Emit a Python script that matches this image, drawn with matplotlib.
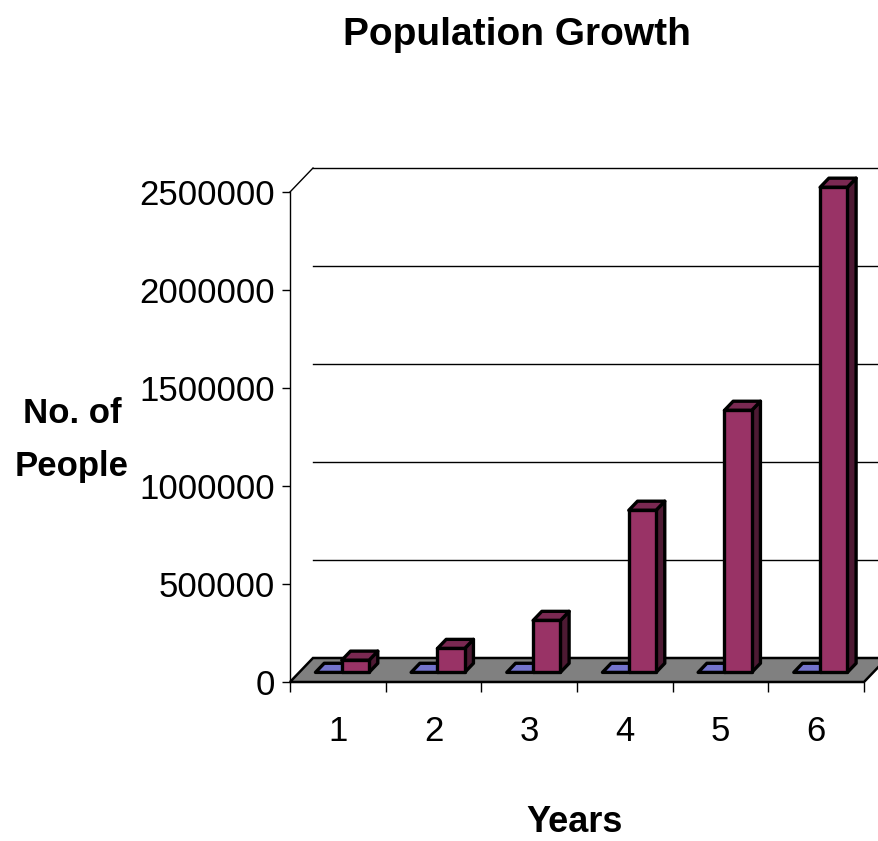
"""Excel-style 3D column chart: Population Growth."""

import matplotlib
matplotlib.use("Agg")
import matplotlib.pyplot as plt
from matplotlib.patches import Polygon

years = ["1", "2", "3", "4", "5", "6"]
series_a = [0, 0, 0, 0, 0, 0]  # flat blue series
population = [62000, 122000, 265000, 827000, 1337000, 2475000]
yticks = [0, 500000, 1000000, 1500000, 2000000, 2500000]

plt.rcParams["font.family"] = ["Liberation Sans", "DejaVu Sans"]

fig = plt.figure(figsize=(8.79, 8.41), dpi=100)
ax = fig.add_axes([290 / 879, 1 - 682 / 841, 574 / 879, 490 / 841])
ax.set_xlim(0, len(years))
ax.set_ylim(0, yticks[-1])

# depth offsets of the back wall, in data units
dx = 23 / 574 * len(years)
dy = 24 / 490 * yticks[-1]
f0, f1 = 0.40, 0.78          # bar front/back depth fraction
w = 0.285                    # bar width (categories)
offsets = [0.17, 0.445]

# floor
floor = Polygon([(0, 0), (6, 0), (6 + dx, dy), (dx, dy)], closed=True,
                facecolor="#808080", edgecolor="black", lw=1.8, clip_on=False, zorder=1)
ax.add_patch(floor)

# back wall gridlines and top edge
for v in yticks[1:]:
    ax.plot([dx, 6 + dx], [v + dy, v + dy], color="black", lw=1, clip_on=False, zorder=0)
ax.plot([0, dx], [yticks[-1], yticks[-1] + dy], color="black", lw=1, clip_on=False, zorder=0)


def bar3d(x0, v, front, top, side):
    x0 = x0 + dx * f0
    x1 = x0 + w
    y0 = dy * f0
    y1 = y0 + v
    ddx, ddy = dx * (f1 - f0), dy * (f1 - f0)
    kw = dict(closed=True, edgecolor="black", lw=2.4, clip_on=False, zorder=3, joinstyle="round")
    ax.add_patch(Polygon([(x1, y0), (x1 + ddx, y0 + ddy), (x1 + ddx, y1 + ddy), (x1, y1)],
                         facecolor=side, **kw))
    ax.add_patch(Polygon([(x0, y1), (x1, y1), (x1 + ddx, y1 + ddy), (x0 + ddx, y1 + ddy)],
                         facecolor=top, **kw))
    if v > 0:
        ax.add_patch(Polygon([(x0, y0), (x1, y0), (x1, y1), (x0, y1)],
                             facecolor=front, **kw))


for i in range(len(years)):
    bar3d(i + offsets[0], series_a[i], "#9999ff", "#7373cc", "#4d4d80")
    bar3d(i + offsets[1], population[i], "#993366", "#7a2952", "#4d1a33")

# axes styling
for s in ("top", "right", "bottom"):
    ax.spines[s].set_visible(False)
ax.spines["left"].set_linewidth(1)
ax.set_facecolor("none")
ax.set_yticks(yticks)
ax.set_yticklabels([str(v) for v in yticks])
ax.tick_params(axis="y", length=6, width=1, pad=5, labelsize=25)
ax.set_xticks(range(len(years) + 1))
ax.set_xticklabels([])
ax.set_xticks([i + 0.5 for i in range(len(years))], minor=True)
ax.set_xticklabels(years, minor=True)
ax.tick_params(axis="x", which="major", length=7, width=1)
ax.tick_params(axis="x", which="minor", length=0, pad=24, labelsize=25)

fig.text(517 / 879, 1 - 35 / 841, "Population Growth", ha="center", va="center",
         fontsize=28, fontweight="bold")
fig.text(72 / 879, 1 - 440 / 841, "No. of\nPeople", ha="center", va="center",
         fontsize=25, fontweight="bold", linespacing=1.75)
fig.text(575 / 879, 1 - 822 / 841, "Years", ha="center", va="center",
         fontsize=26, fontweight="bold")

fig.savefig("out.png", dpi=100)
